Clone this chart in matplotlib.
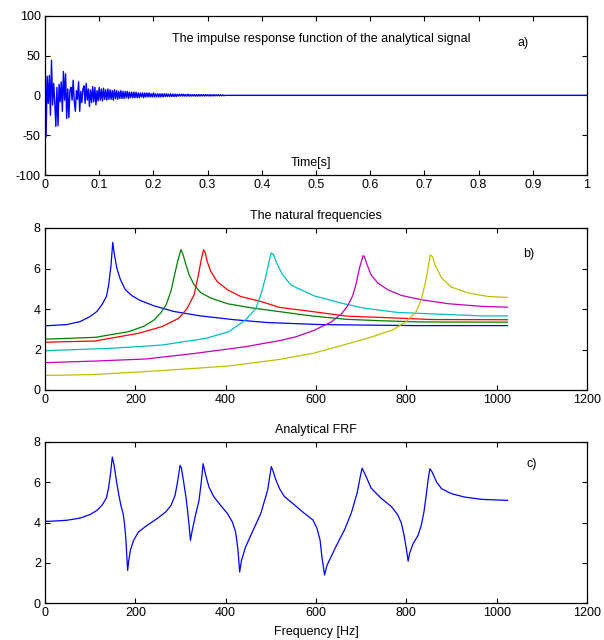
import numpy as np
import matplotlib
matplotlib.use("Agg")
import matplotlib.pyplot as plt

plt.rcParams['font.family'] = ['Liberation Sans', 'DejaVu Sans']
plt.rcParams['font.size'] = 9
plt.rcParams['axes.unicode_minus'] = False

# ---------------- data: (a) impulse response ----------------
ir_dt = 0.002
ir_values = [
    57, -52, 24, -10, 25, -25, 44, -12, 15, -8,
    -39, 10, -38, 14, -8, 17, -20, 30, -6, 27,
    -29, 8, -28, 6, 10, -6, 19, -8, -20, 6,
    -5, 17, -20, 5, -9, 8, 12, -10, 15, -6,
    8, -14, 7, -9, 11, -8, 10, -12, 6, -7,
    10, -6, 8, -7, 9, -5, 7, -6, 8, -5,
    7, -5, 6, -6, 7, -4, 6, -5, 5, -4,
    6, -4, 5, -4, 5, -3, 5, -4, 4, -3,
    4, -3, 4, -3, 4, -3, 3, -3, 3, -2,
    3, -3, 3, -2, 3, -2, 3, -2, 2, -2,
    3, -2, 2, -2, 2, -2, 2, -2, 2, -2,
    2, -1.5, 2, -1.5, 1.5, -1.5, 2, -1.5, 1.5, -1.5,
    1.5, -1.5, 1.5, -1, 1.5, -1, 1.5, -1, 1.5, -1,
    1, -1, 1.5, -1, 1, -1, 1, -1, 1, -1,
    1, -1, 1, -1, 1, -0.8, 1, -0.8, 1, -0.8,
    0.8, -0.8, 1, -0.8, 0.8, -0.8, 0.8, -0.6, 0.8, -0.6,
    0.8, -0.6, 0.6, -0.6, 0.6, -0.5,
]
ir_tail_t = [0.332, 1.0]
ir_tail_v = [0.0, 0.0]

# ---------------- data: (b) single-mode FRFs (log magnitude) ----------------
mode_freqs = [150, 300, 350, 500, 700, 850]
mode_colors = ['#0000ff', '#008000', '#ff0000', '#00bfbf', '#bf00bf', '#bfbf00']

m1_f = [0, 48, 78, 100, 115, 126, 136, 141, 146, 150, 153, 159, 167, 178, 193, 211, 241, 285, 344, 419, 493, 611, 693, 819, 1024]
m1_y = [3.17, 3.23, 3.38, 3.63, 3.88, 4.21, 4.62, 5.20, 6.11, 7.29, 6.77, 6.02, 5.45, 4.95, 4.65, 4.42, 4.16, 3.88, 3.66, 3.47, 3.33, 3.23, 3.21, 3.18, 3.18]

m2_f = [0, 111, 185, 219, 241, 256, 268, 279, 289, 296, 301, 305, 311, 319, 330, 344, 367, 404, 456, 519, 593, 667, 744, 833, 1024]
m2_y = [2.51, 2.60, 2.88, 3.15, 3.45, 3.80, 4.20, 4.90, 5.90, 6.55, 6.93, 6.73, 6.27, 5.69, 5.20, 4.82, 4.54, 4.26, 4.06, 3.87, 3.65, 3.49, 3.42, 3.36, 3.35]

m3_f = [0, 111, 207, 259, 296, 315, 330, 339, 346, 351, 355, 359, 367, 381, 404, 433, 478, 519, 593, 667, 781, 856, 1024]
m3_y = [2.36, 2.42, 2.80, 3.13, 3.54, 4.04, 4.70, 5.61, 6.44, 6.93, 6.77, 6.35, 5.86, 5.36, 4.95, 4.62, 4.37, 4.08, 3.87, 3.65, 3.55, 3.48, 3.47]

m4_f = [0, 148, 259, 356, 407, 444, 467, 479, 489, 496, 501, 506, 513, 526, 544, 559, 596, 656, 707, 781, 856, 967, 1024]
m4_y = [1.94, 2.06, 2.22, 2.55, 2.88, 3.46, 4.03, 4.79, 5.61, 6.35, 6.77, 6.68, 6.27, 5.69, 5.20, 5.03, 4.65, 4.29, 4.04, 3.83, 3.76, 3.66, 3.66]

m5_f = [0, 111, 222, 333, 444, 522, 556, 596, 633, 656, 670, 681, 689, 696, 704, 707, 713, 722, 737, 759, 789, 833, 893, 967, 1024]
m5_y = [1.35, 1.43, 1.53, 1.81, 2.14, 2.45, 2.63, 2.95, 3.35, 3.75, 4.15, 4.65, 5.25, 6.00, 6.63, 6.60, 6.19, 5.69, 5.28, 4.95, 4.67, 4.46, 4.26, 4.13, 4.09]

m6_f = [0, 104, 222, 333, 407, 519, 593, 667, 726, 770, 800, 822, 833, 842, 848, 853, 858, 865, 878, 900, 937, 981, 1024]
m6_y = [0.72, 0.76, 0.91, 1.07, 1.19, 1.51, 1.81, 2.26, 2.64, 2.97, 3.38, 3.88, 4.46, 5.28, 6.02, 6.68, 6.57, 6.11, 5.53, 5.08, 4.79, 4.62, 4.57]

# ---------------- data: (c) analytical FRF ----------------
frf_f = [0, 11, 48, 78, 100, 115, 126, 136, 141, 145, 149, 153, 158, 163, 168, 173, 176, 179, 181,
         183, 185, 189, 196, 207, 226, 248, 267, 279, 288, 294, 299, 302, 307, 312, 316, 319, 322,
         326, 333, 341, 346, 350, 356, 363, 374, 389, 404, 415, 422, 427, 431, 435, 444, 456, 478,
         493, 501, 505, 511, 520, 530, 552, 574, 593, 602, 609, 613, 619, 624, 630, 644, 663, 678,
         691, 698, 702, 706, 711, 722, 744, 767, 781, 789, 795, 800, 804, 807, 815, 826, 833,
         839, 844, 848, 852, 857, 867, 878, 900, 930, 967, 1024]
frf_y = [4.06, 4.06, 4.11, 4.22, 4.40, 4.60, 4.85, 5.22, 5.76, 6.42, 7.25, 6.84, 6.09, 5.43, 4.85,
         4.44, 3.94, 3.20, 2.37, 1.62, 2.04, 2.62, 3.11, 3.53, 3.86, 4.19, 4.52, 4.85, 5.35, 6.09,
         6.84, 6.71, 6.01, 5.27, 4.52, 3.86, 3.11, 3.61, 4.35, 5.10, 6.01, 6.92, 6.34, 5.76, 5.27,
         4.85, 4.44, 4.02, 3.53, 2.70, 1.54, 2.12, 2.78, 3.38, 4.46, 5.62, 6.78, 6.55, 6.12, 5.65,
         5.29, 4.88, 4.46, 4.13, 3.72, 3.13, 2.30, 1.39, 1.85, 2.14, 2.80, 3.63, 4.46, 5.46, 6.28,
         6.70, 6.52, 6.28, 5.71, 5.21, 4.79, 4.38, 3.97, 3.36, 2.70, 2.08, 2.45, 2.95, 3.36,
         3.86, 4.52, 5.35, 6.09, 6.67, 6.51, 6.01, 5.68, 5.43, 5.26, 5.15, 5.10]

a_xticks = [0, 0.1, 0.2, 0.3, 0.4, 0.5, 0.6, 0.7, 0.8, 0.9, 1]
a_xticklabels = ['0', '0.1', '0.2', '0.3', '0.4', '0.5', '0.6', '0.7', '0.8', '0.9', '1']
a_yticks = [-100, -50, 0, 50, 100]
f_xticks = [0, 200, 400, 600, 800, 1000, 1200]
f_yticks = [0, 2, 4, 6, 8]

# ---------------- figure ----------------
fig = plt.figure(figsize=(6.04, 6.4), dpi=100)
W, H = 604, 640

def add_axes(l, t, r, b):
    return fig.add_axes([l / W, 1 - b / H, (r - l) / W, (b - t) / H])

axa = add_axes(45, 15.7, 587, 175)
axb = add_axes(45, 228, 587, 390)
axc = add_axes(45, 442, 587, 603)

def style(ax):
    ax.tick_params(direction='in', top=True, right=True, length=3.5, width=0.8,
                   labelsize=9, pad=3, colors='black')
    for s in ax.spines.values():
        s.set_linewidth(0.9)
        s.set_color('black')

# (a)
t_ir = np.arange(len(ir_values)) * ir_dt
axa.plot(np.concatenate([t_ir, ir_tail_t]), np.concatenate([ir_values, ir_tail_v]),
         color='#0000ff', lw=1.0)
axa.set_xlim(0, 1)
axa.set_ylim(-100, 100)
axa.set_xticks(a_xticks)
axa.set_xticklabels(a_xticklabels)
axa.set_yticks(a_yticks)
style(axa)
axa.text(0.51, 0.855, 'The impulse response function of the analytical signal',
         transform=axa.transAxes, ha='center', va='center', fontsize=9)
axa.text(0.882, 0.83, 'a)', transform=axa.transAxes, ha='center', va='center', fontsize=9)
axa.text(0.49, 0.075, 'Time[s]', transform=axa.transAxes, ha='center', va='center', fontsize=9)

# (b)
modes_f = [m1_f, m2_f, m3_f, m4_f, m5_f, m6_f]
modes_y = [m1_y, m2_y, m3_y, m4_y, m5_y, m6_y]
for f, y, c in zip(modes_f, modes_y, mode_colors):
    axb.plot(f, y, color=c, lw=0.9)
axb.set_xlim(0, 1200)
axb.set_ylim(0, 8)
axb.set_xticks(f_xticks)
axb.set_yticks(f_yticks)
style(axb)
axb.set_title('The natural frequencies', fontsize=9, pad=6.5)
axb.text(1071, 6.7, 'b)', ha='center', va='center', fontsize=9)

# (c)
axc.plot(frf_f, frf_y, color='#0000ff', lw=0.9)
axc.set_xlim(0, 1200)
axc.set_ylim(0, 8)
axc.set_xticks(f_xticks)
axc.set_yticks(f_yticks)
style(axc)
axc.set_title('Analytical FRF', fontsize=9, pad=6.5)
axc.text(1078, 6.9, 'c)', ha='center', va='center', fontsize=9)
axc.set_xlabel('Frequency [Hz]', fontsize=9, labelpad=5)

fig.savefig('out.png', dpi=100, facecolor='white')
